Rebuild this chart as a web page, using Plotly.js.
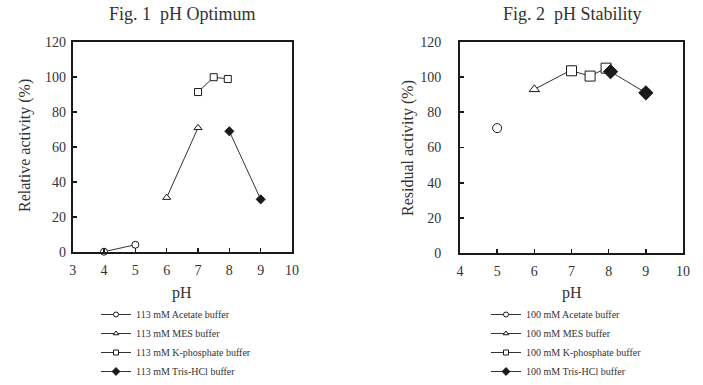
<!DOCTYPE html>
<html>
<head>
<meta charset="utf-8">
<script src="https://cdn.plot.ly/plotly-3.0.1.min.js"></script>
<style>html,body{margin:0;padding:0;background:#fff;}#chart{width:703px;height:385px;}</style>
</head>
<body>
<div id="chart"></div>
<script>
// Fig. 1 pH Optimum (113 mM buffers)
const optNames = ["113 mM Acetate buffer", "113 mM MES buffer", "113 mM K-phosphate buffer", "113 mM Tris-HCl buffer"];
const optAcetateX = [4, 5];        const optAcetateY = [0, 4];
const optMesX = [6, 7];            const optMesY = [31, 71];
const optKpiX = [7, 7.5, 7.95];    const optKpiY = [91.5, 100, 99];
const optTrisX = [8, 9];           const optTrisY = [69, 30];

// Fig. 2 pH Stability (100 mM buffers)
const stabNames = ["100 mM Acetate buffer", "100 mM MES buffer", "100 mM K-phosphate buffer", "100 mM Tris-HCl buffer"];
const stabAcetateX = [5];          const stabAcetateY = [71];
const stabMesX = [6, 7];           const stabMesY = [93, 104];
const stabKpiX = [7, 7.5, 7.93];   const stabKpiY = [103.5, 100.5, 105];
const stabTrisX = [8.05, 9];       const stabTrisY = [103, 91];

const xTicks1 = [3, 4, 5, 6, 7, 8, 9, 10];
const xTicks2 = [4, 5, 6, 7, 8, 9, 10];
const yTicks = [0, 20, 40, 60, 80, 100, 120];

const symbols = ["circle", "triangle-up", "square", "diamond"];
const serif = "Liberation Serif";
const ink = "#1a1a1a";
const fills = ["#fff", "#fff", "#fff", ink];

function tr(x, y, name, i, size, xa, ya) {
  return {
    x: x, y: y, name: name, type: "scatter", mode: "lines+markers",
    xaxis: xa, yaxis: ya, showlegend: false,
    line: {color: "#333", width: 1},
    marker: {symbol: symbols[i], size: size, color: fills[i], line: {color: ink, width: 1}},
    cliponaxis: false
  };
}
// legend entries (small symbols like the reference legend)
function legTr(name, i, xa, ya, leg) {
  return {
    x: [null], y: [null], name: name, type: "scatter", mode: "lines+markers",
    xaxis: xa, yaxis: ya, legend: leg, showlegend: true,
    line: {color: "#333", width: 1},
    marker: {symbol: symbols[i], size: i === 3 ? 6 : 5, color: fills[i], line: {color: ink, width: 1}}
  };
}

const data = [
  tr(optAcetateX, optAcetateY, optNames[0], 0, 7, "x", "y"),
  tr(optMesX, optMesY, optNames[1], 1, 7, "x", "y"),
  tr(optKpiX, optKpiY, optNames[2], 2, 7, "x", "y"),
  tr(optTrisX, optTrisY, optNames[3], 3, 7, "x", "y"),
  tr(stabAcetateX, stabAcetateY, stabNames[0], 0, 9, "x2", "y2"),
  tr(stabMesX, stabMesY, stabNames[1], 1, 9, "x2", "y2"),
  tr(stabKpiX, stabKpiY, stabNames[2], 2, 10, "x2", "y2"),
  tr(stabTrisX, stabTrisY, stabNames[3], 3, 11, "x2", "y2")
];
for (let i = 0; i < 4; i++) data.push(legTr(optNames[i], i, "x", "y", "legend"));
for (let i = 0; i < 4; i++) data.push(legTr(stabNames[i], i, "x2", "y2", "legend2"));

function xax(dom, rng, ticks, anchor) {
  return {
    domain: dom, range: rng, tickvals: ticks, ticktext: ticks.map(String), anchor: anchor,
    showline: true, mirror: true, linecolor: ink, linewidth: 2,
    ticks: "inside", ticklen: 4, tickwidth: 1.5, tickcolor: ink,
    showgrid: false, zeroline: false, fixedrange: true, ticklabelstandoff: 4,
    tickfont: {family: serif, size: 14, color: "#333"}
  };
}
function yax(dom, anchor, standoff) {
  return {
    domain: dom, range: [0, 120], tickvals: yTicks, ticktext: yTicks.map(String), anchor: anchor,
    showline: true, mirror: true, linecolor: ink, linewidth: 2,
    ticks: "inside", ticklen: 4, tickwidth: 1.5, tickcolor: ink,
    showgrid: false, zeroline: false, fixedrange: true, ticklabelstandoff: standoff,
    tickfont: {family: serif, size: 14, color: "#333"}
  };
}

const legendBase = {
  font: {family: serif, size: 10, color: "#333"},
  bgcolor: "rgba(0,0,0,0)", borderwidth: 0,
  xanchor: "left", yanchor: "top", tracegroupgap: 0,
  itemclick: false, itemdoubleclick: false
};

const layout = {
  width: 703, height: 385,
  margin: {l: 0, r: 0, t: 0, b: 0, autoexpand: false},
  paper_bgcolor: "#fff", plot_bgcolor: "#fff",
  showlegend: true,
  font: {family: serif, color: "#333"},
  xaxis: xax([0.1034, 0.4154], [3, 10], xTicks1, "y"),
  yaxis: yax([0.3462, 0.8901], "x", 2),
  xaxis2: xax([0.6543, 0.9716], [4, 10], xTicks2, "y2"),
  yaxis2: yax([0.342, 0.8917], "x2", 14),
  legend: Object.assign({}, legendBase, {x: 96 / 703, y: 1 - 300 / 385}),
  legend2: Object.assign({}, legendBase, {x: 486 / 703, y: 1 - 300 / 385}),
  annotations: [
    {text: "Fig. 1  pH Optimum", xref: "paper", yref: "paper", x: 182 / 703, y: 1 - 14 / 385, xanchor: "center", yanchor: "middle", showarrow: false, font: {family: serif, size: 18, color: "#333"}},
    {text: "Fig. 2  pH Stability", xref: "paper", yref: "paper", x: 572 / 703, y: 1 - 14 / 385, xanchor: "center", yanchor: "middle", showarrow: false, font: {family: serif, size: 18, color: "#333"}},
    {text: "Relative activity (%)", xref: "paper", yref: "paper", x: 25 / 703, y: 1 - 146 / 385, xanchor: "center", yanchor: "middle", textangle: -90, showarrow: false, font: {family: serif, size: 16, color: "#333"}},
    {text: "Residual activity (%)", xref: "paper", yref: "paper", x: 408 / 703, y: 1 - 148 / 385, xanchor: "center", yanchor: "middle", textangle: -90, showarrow: false, font: {family: serif, size: 16, color: "#333"}},
    {text: "pH", xref: "paper", yref: "paper", x: 182 / 703, y: 1 - 293 / 385, xanchor: "center", yanchor: "middle", showarrow: false, font: {family: serif, size: 16, color: "#333"}},
    {text: "pH", xref: "paper", yref: "paper", x: 572 / 703, y: 1 - 293 / 385, xanchor: "center", yanchor: "middle", showarrow: false, font: {family: serif, size: 16, color: "#333"}}
  ]
};

Plotly.newPlot("chart", data, layout, {displayModeBar: false, staticPlot: true});
</script>
</body>
</html>
